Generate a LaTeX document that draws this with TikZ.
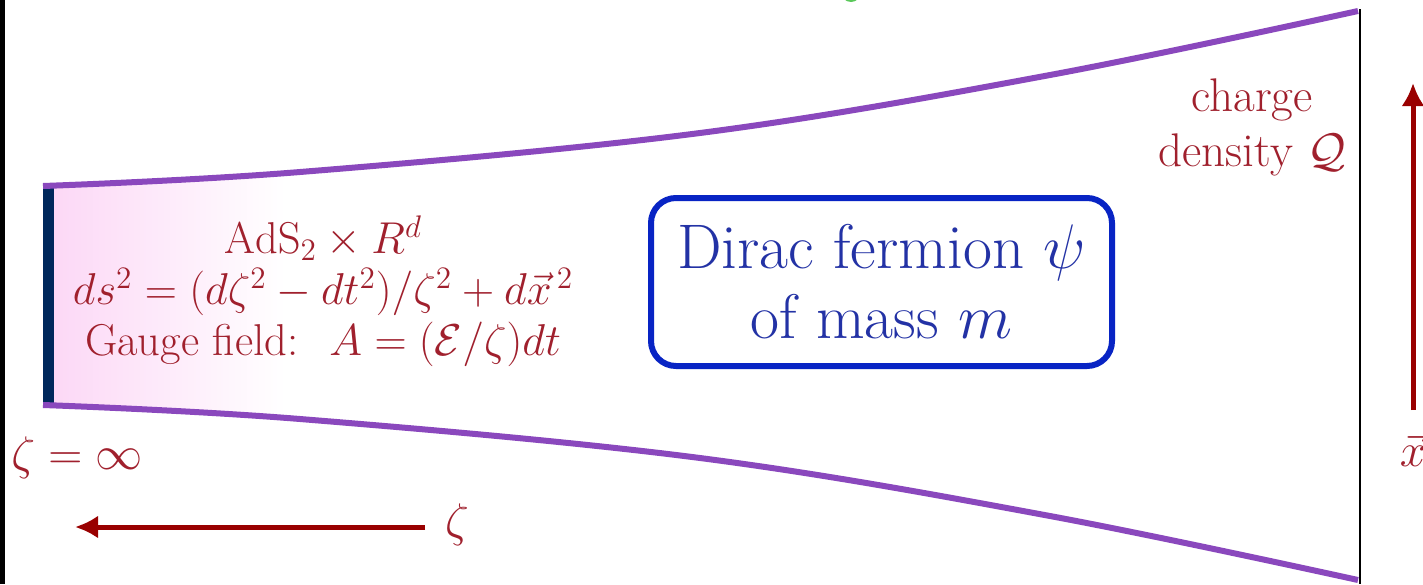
\RequirePackage{fix-cm}
\documentclass[tikz,border=0pt]{standalone}
\usetikzlibrary{arrows.meta}
\definecolor{purp}{RGB}{138,72,189}
\definecolor{navybar}{RGB}{0,40,92}
\definecolor{txtred}{RGB}{160,32,45}
\definecolor{arrred}{RGB}{153,0,0}
\definecolor{boxblue}{RGB}{8,36,196}
\definecolor{txtblue}{RGB}{35,50,165}
\definecolor{pinkfill}{RGB}{252,216,246}
\definecolor{greenblob}{RGB}{90,200,90}
\begin{document}
\begin{tikzpicture}[x=0.5pt,y=-0.5pt,
  redtext/.style={text=txtred,font=\fontsize{22.3}{25.5}\selectfont,align=center,inner sep=0pt},
  bigred/.style={redtext,font=\fontsize{23.6}{27.5}\selectfont},
  wall/.style={purp,line width=3pt},
  axisarrow/.style={arrred,line width=2.5pt,-{Latex[length=11.5pt,width=11.5pt]}},
  fermionbox/.style={draw=boxblue,line width=3pt,rounded corners=12.5pt,
    minimum width=230.5pt,minimum height=84pt,text=txtblue,
    font=\fontsize{31.5}{35}\selectfont,align=center}
]
\fill[white] (0,0) rectangle (1423,584);
\useasboundingbox (0,0) rectangle (1423,584);
\fill[black] (0,0) rectangle (5,584);
\fill[greenblob] (851,-8) circle (10);
% pink shading near the horizon
\begin{scope}
  \clip (54,186) -- (300,172) -- (300,419) -- (54,405) -- cycle;
  \shade[left color=pinkfill,right color=white] (54,150) rectangle (285,440);
\end{scope}
% horizon bar
\fill[navybar] (43,186) rectangle (54,405);
% walls
\draw[wall] plot[smooth,tension=0.6] coordinates {(43,186) (300,172) (700,133) (1050,75) (1358,11)};
\draw[wall] plot[smooth,tension=0.6] coordinates {(43,405) (300,419) (700,458) (1050,516) (1358,580)};
% boundary
\draw[black,line width=1pt] (1360,9) -- (1360,584);
% texts
\node[redtext] (ads) at (323,291) {$\mathrm{AdS}_2\times R^d$\\
  $ds^2=(d\zeta^2-dt^2)/\zeta^2+d\vec{x}^{\,2}$\\
  Gauge field:\hspace{0.7em}$A=(\mathcal{E}/\zeta)dt$};
\node[fermionbox] (dirac) at (881.5,282) {Dirac fermion $\psi$\\of mass $m$};
\node[bigred] (charge) at (1252,127) {charge\\density $\mathcal{Q}$};
\node[bigred] (zinf) at (77,458) {$\zeta=\infty$};
\node[bigred] (zeta) at (457,525) {$\zeta$};
\node[bigred] (xvec) at (1413,450) {$\vec{x}$};
% axis arrows
\coordinate (ztail) at (425,527);
\coordinate (ztip) at (75,527);
\draw[axisarrow] (ztail) -- (ztip);
\coordinate (xtail) at (1413,410);
\coordinate (xtip) at (1413,83);
\draw[axisarrow] (xtail) -- (xtip);
\end{tikzpicture}
\end{document}
